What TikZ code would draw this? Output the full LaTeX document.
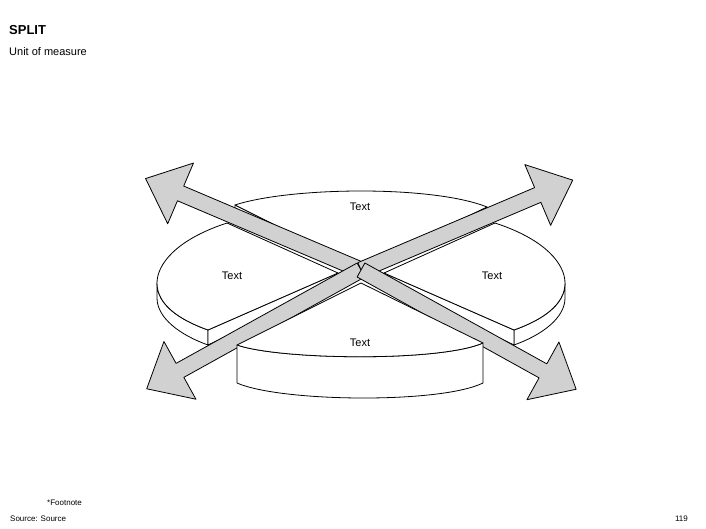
\documentclass[tikz,border=0pt]{standalone}
\usepackage{fontspec}
\setmainfont{Liberation Sans}
\begin{document}
\begin{tikzpicture}[x=1pt,y=-1pt,line join=round,
  piece/.style={draw=black,fill=white,line width=0.8pt},
  arrowst/.style={draw=black,fill=black!18,line width=0.8pt},
  lbl/.style={font=\fontsize{11}{13}\selectfont,inner sep=0pt}]
\useasboundingbox (0,0) rectangle (706,529);
\newcommand\myarrow[2]{\begin{scope}[shift={(361,270)},rotate=#1]
  \filldraw[arrowst] (0,-8)--(#2-38,-8)--(#2-38,-33)--(#2,0)--(#2-38,33)--(#2-38,8)--(0,8)--cycle;
\end{scope}}
% top piece
\filldraw[piece] (235,205)--(235,215)--(361,277)--(487,215)--(487,207)--(361,268)--cycle;
\filldraw[piece] (235,205) .. controls (290,187) and (432,185) .. (487,207)--(361,268)--cycle;
\draw[line width=0.8pt] (361,268)--(361,277);
% left piece
\filldraw[piece] (157,283)--(157,298) .. controls (157,318) and (180,335) .. (208,345)--(208,330) .. controls (180,320) and (157,305) .. (157,283)--cycle;
\filldraw[piece] (208,330)--(208,345)--(338,283)--(338,273)--cycle;
\filldraw[piece] (227,223) .. controls (175,240) and (157,265) .. (157,283) .. controls (157,305) and (180,320) .. (208,330)--(338,273)--cycle;
% right piece
\filldraw[piece] (565,283)--(565,298) .. controls (565,318) and (542,335) .. (514,345)--(514,330) .. controls (542,320) and (565,305) .. (565,283)--cycle;
\filldraw[piece] (514,330)--(514,345)--(384,283)--(384,273)--cycle;
\filldraw[piece] (495,223) .. controls (547,240) and (565,265) .. (565,283) .. controls (565,305) and (542,320) .. (514,330)--(384,273)--cycle;
% arrows
\myarrow{157}{234}
\myarrow{23}{230}
\myarrow{209}{245}
\myarrow{331}{246}
% bottom piece
\filldraw[piece] (237,345)--(237,383) .. controls (280,402) and (440,404) .. (483,383)--(483,343) .. controls (440,362) and (280,360) .. (237,345)--cycle;
\filldraw[piece] (237,345)--(361,283)--(483,343) .. controls (440,362) and (280,360) .. (237,345)--cycle;
% labels
\node[lbl] (t1) at (360,207) {Text};
\node[lbl] (t2) at (232,276) {Text};
\node[lbl] (t3) at (492,276) {Text};
\node[lbl] (t4) at (360,343) {Text};
\node[anchor=west,inner sep=0pt,font=\bfseries\fontsize{13}{15}\selectfont] (title) at (9,30) {SPLIT};
\node[anchor=west,inner sep=0pt,font=\fontsize{11}{13}\selectfont] (sub) at (9,52) {Unit of measure};
\node[anchor=west,inner sep=0pt,font=\fontsize{8}{10}\selectfont] (fn) at (47,503) {*Footnote};
\node[anchor=west,inner sep=0pt,font=\fontsize{8}{10}\selectfont] (src) at (10,519) {Source: Source};
\node[anchor=east,inner sep=0pt,font=\fontsize{8}{10}\selectfont] (pg) at (688,519) {119};
\end{tikzpicture}
\end{document}
